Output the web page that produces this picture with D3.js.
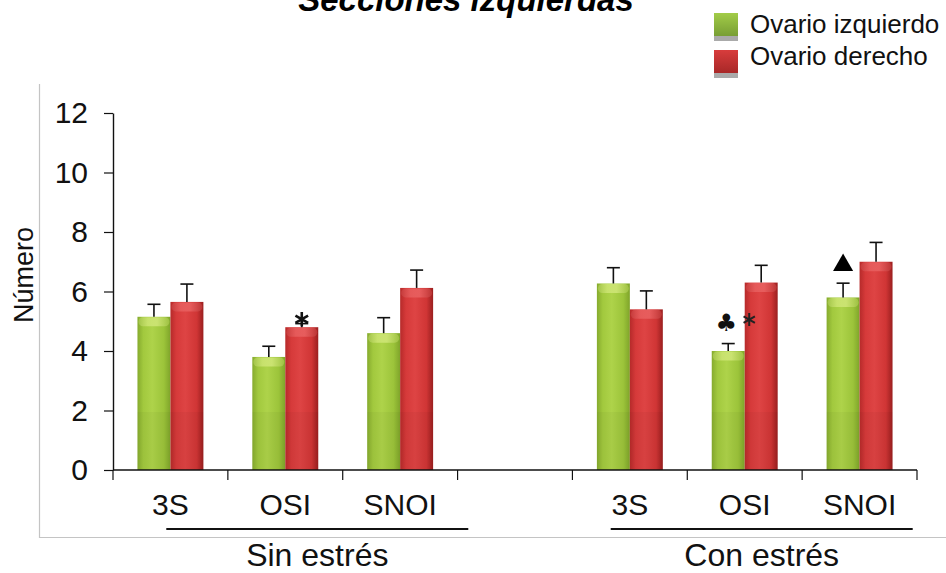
<!DOCTYPE html>
<html>
<head>
<meta charset="utf-8">
<script src="https://cdn.jsdelivr.net/npm/d3@7"></script>
<style>
  html, body { margin: 0; padding: 0; background: #fff; }
  svg { display: block; font-family: "Liberation Sans", Arial, sans-serif; }
</style>
</head>
<body>
<svg id="chart" width="946" height="573"></svg>
<script>
// ---- data ----
const categoryIds = ["sin-3S", "sin-OSI", "sin-SNOI", "gap", "con-3S", "con-OSI", "con-SNOI"];
const categoryLabels = ["3S", "OSI", "SNOI", "", "3S", "OSI", "SNOI"];
const seriesNames = ["Ovario izquierdo", "Ovario derecho"];
const izquierdo = [5.15, 3.8, 4.6, null, 6.27, 4.0, 5.8];
const izquierdoErr = [0.42, 0.36, 0.52, null, 0.53, 0.25, 0.48];
const derecho = [5.65, 4.8, 6.12, null, 5.4, 6.3, 7.0];
const derechoErr = [0.6, 0.12, 0.6, null, 0.62, 0.58, 0.65];
const yTicks = [0, 2, 4, 6, 8, 10, 12];
const groups = [
  { label: "Sin estrés", first: "sin-3S", last: "sin-SNOI" },
  { label: "Con estrés", first: "con-3S", last: "con-SNOI" }
];
// significance marks: category, series index, symbol
const marks = [
  { cat: "sin-OSI", s: 1, sym: "asterisk" },
  { cat: "con-OSI", s: 0, sym: "club" },
  { cat: "con-OSI", s: 0, sym: "asterisk-side" },
  { cat: "con-SNOI", s: 0, sym: "triangle" }
];

const values = [izquierdo, derecho];
const errors = [izquierdoErr, derechoErr];

const svg = d3.select("#chart");
const defs = svg.append("defs");

// cylinder-like shading for the bars
function hGrad(id, stops) {
  const g = defs.append("linearGradient").attr("id", id)
    .attr("x1", "0%").attr("x2", "100%").attr("y1", "0%").attr("y2", "0%");
  stops.forEach(([o, c]) => g.append("stop").attr("offset", o).attr("stop-color", c));
}
hGrad("g-green", [["0%", "#86ab2e"], ["18%", "#a2c93e"], ["45%", "#aed34a"], ["80%", "#9cc43a"], ["100%", "#7fa42a"]]);
hGrad("g-red", [["0%", "#b62a2a"], ["18%", "#d63a3a"], ["45%", "#de4444"], ["80%", "#d03535"], ["100%", "#9a1f1f"]]);
hGrad("g-green-cap", [["0%", "#a8c850"], ["30%", "#cfe676"], ["60%", "#d3e87c"], ["100%", "#a4c648"]]);
hGrad("g-red-cap", [["0%", "#c84040"], ["30%", "#e86060"], ["60%", "#ea6464"], ["100%", "#c03a3a"]]);
const vG = defs.append("linearGradient").attr("id", "leg-green").attr("x1", 0).attr("x2", 0).attr("y1", 0).attr("y2", 1);
vG.append("stop").attr("offset", "0%").attr("stop-color", "#a2cc48");
vG.append("stop").attr("offset", "100%").attr("stop-color", "#789e34");
const vR = defs.append("linearGradient").attr("id", "leg-red").attr("x1", 0).attr("x2", 0).attr("y1", 0).attr("y2", 1);
vR.append("stop").attr("offset", "0%").attr("stop-color", "#d83c3c");
vR.append("stop").attr("offset", "100%").attr("stop-color", "#a82828");

const fills = ["url(#g-green)", "url(#g-red)"];
const capFills = ["url(#g-green-cap)", "url(#g-red-cap)"];

// ---- scales ----
const x0 = d3.scaleBand().domain(categoryIds).range([113, 917]).padding(0);
const x1 = d3.scaleBand().domain([0, 1]).range([0, x0.bandwidth()]).paddingInner(0).paddingOuter(0.742);
const y = d3.scaleLinear().domain([0, 12]).range([470, 113]);

// ---- frame ----
svg.append("line").attr("x1", 39.5).attr("x2", 39.5).attr("y1", 84).attr("y2", 538)
  .attr("stroke", "#c4c4c4").attr("stroke-width", 1.2);
svg.append("line").attr("x1", 39).attr("x2", 946).attr("y1", 537.5).attr("y2", 537.5)
  .attr("stroke", "#c4c4c4").attr("stroke-width", 1.2);

// ---- title ----
svg.append("text").attr("x", 466).attr("y", 11).attr("text-anchor", "middle")
  .attr("font-size", 33).attr("font-weight", "bold").attr("font-style", "italic")
  .text("Secciones izquierdas");

// ---- bars ----
const barData = [];
categoryIds.forEach((c, i) => {
  [0, 1].forEach(s => {
    if (values[s][i] != null) barData.push({ cat: c, s, v: values[s][i], e: errors[s][i] });
  });
});

const bars = svg.append("g");
bars.selectAll("rect.bar").data(barData).join("rect").attr("class", "bar")
  .attr("x", d => x0(d.cat) + x1(d.s))
  .attr("width", x1.bandwidth())
  .attr("y", d => y(d.v))
  .attr("height", d => y(0) - y(d.v))
  .attr("fill", d => fills[d.s]);
// faint lower reflection band
bars.selectAll("rect.low").data(barData).join("rect").attr("class", "low")
  .attr("x", d => x0(d.cat) + x1(d.s))
  .attr("width", x1.bandwidth())
  .attr("y", y(1.95))
  .attr("height", y(0) - y(1.95))
  .attr("fill", "#000").attr("opacity", 0.03);
// rounded light cap at the top of each bar
bars.selectAll("rect.cap").data(barData).join("rect").attr("class", "cap")
  .attr("x", d => x0(d.cat) + x1(d.s) + 1)
  .attr("width", x1.bandwidth() - 2)
  .attr("y", d => y(d.v) + 0.5)
  .attr("height", 9).attr("rx", 4.5)
  .attr("fill", d => capFills[d.s]).attr("opacity", 0.8);

// ---- error bars ----
const eb = svg.append("g").attr("stroke", "#111").attr("stroke-width", 1.6);
barData.forEach(d => {
  const cx = x0(d.cat) + x1(d.s) + x1.bandwidth() / 2;
  eb.append("line").attr("x1", cx).attr("x2", cx).attr("y1", y(d.v)).attr("y2", y(d.v + d.e));
  eb.append("line").attr("x1", cx - 6.5).attr("x2", cx + 6.5).attr("y1", y(d.v + d.e)).attr("y2", y(d.v + d.e));
});

// ---- significance marks ----
marks.forEach(m => {
  const i = categoryIds.indexOf(m.cat);
  const v = values[m.s][i], e = errors[m.s][i];
  const cx = x0(m.cat) + x1(m.s) + x1.bandwidth() / 2;
  const top = y(v + e);
  if (m.sym === "asterisk") {
    svg.append("path").attr("d", d3.symbol(d3.symbolAsterisk, 150)())
      .attr("transform", `translate(${cx},${y(v) - 8})`)
      .attr("stroke", "#111").attr("stroke-width", 2.6).attr("fill", "none");
  } else if (m.sym === "asterisk-side") {
    svg.append("path").attr("d", d3.symbol(d3.symbolAsterisk, 120)())
      .attr("transform", `translate(${cx + 21},${top - 24})`)
      .attr("stroke", "#222").attr("stroke-width", 2).attr("fill", "none");
  } else if (m.sym === "club") {
    svg.append("text").attr("x", cx - 2).attr("y", top - 13)
      .attr("text-anchor", "middle").attr("font-family", "DejaVu Sans")
      .attr("font-size", 24).attr("fill", "#111").text("\u2663");
  } else if (m.sym === "triangle") {
    svg.append("path").attr("d", d3.symbol(d3.symbolTriangle, 175)())
      .attr("transform", `translate(${cx},${top - 18})`)
      .attr("fill", "#000");
  }
});

// ---- y axis ----
const yAxis = svg.append("g").attr("transform", "translate(113,0)")
  .call(d3.axisLeft(y).tickValues(yTicks).tickSize(9).tickPadding(16).tickSizeOuter(0));
yAxis.select(".domain").attr("stroke", "#111").attr("stroke-width", 1.4);
yAxis.selectAll(".tick line").attr("stroke", "#111").attr("stroke-width", 1.2);
yAxis.selectAll(".tick text").attr("font-size", 30).attr("fill", "#111")
  .attr("font-family", "'Liberation Sans', Arial, sans-serif");

svg.append("text").attr("transform", "translate(33,275) rotate(-90)")
  .attr("text-anchor", "middle").attr("font-size", 27).attr("fill", "#111")
  .text("Número");

// ---- x axis (ticks at category boundaries) ----
const xg = svg.append("g");
xg.append("line").attr("x1", x0.range()[0]).attr("x2", x0.range()[1])
  .attr("y1", y(0)).attr("y2", y(0)).attr("stroke", "#111").attr("stroke-width", 1.4);
const bounds = categoryIds.map(c => x0(c)).concat([x0(categoryIds[categoryIds.length - 1]) + x0.bandwidth()]);
xg.selectAll("line.tk").data(bounds).join("line").attr("class", "tk")
  .attr("x1", d => d).attr("x2", d => d).attr("y1", y(0)).attr("y2", y(0) + 10)
  .attr("stroke", "#111").attr("stroke-width", 1.2);
xg.selectAll("text.cat").data(categoryIds).join("text").attr("class", "cat")
  .attr("x", d => x0(d) + x0.bandwidth() / 2).attr("y", 515)
  .attr("text-anchor", "middle").attr("font-size", 30).attr("fill", "#111")
  .text((d, i) => categoryLabels[i]);

// ---- group brackets and labels ----
const groupShift = [32, 17];
groups.forEach((g, gi) => {
  const cx = (x0(g.first) + x0(g.last) + x0.bandwidth()) / 2 + groupShift[gi];
  svg.append("line").attr("x1", cx - 151).attr("x2", cx + 151).attr("y1", 529).attr("y2", 529)
    .attr("stroke", "#111").attr("stroke-width", 2.2);
  svg.append("text").attr("x", cx).attr("y", 566).attr("text-anchor", "middle")
    .attr("font-size", 32).attr("fill", "#111").text(g.label);
});

// ---- legend ----
const legend = svg.append("g");
const legFills = ["url(#leg-green)", "url(#leg-red)"];
seriesNames.forEach((name, i) => {
  const top = 13 + i * 37;
  legend.append("rect").attr("x", 714).attr("y", top).attr("width", 24).attr("height", 23).attr("fill", legFills[i]);
  legend.append("rect").attr("x", 714).attr("y", top + 23).attr("width", 24).attr("height", 5).attr("fill", "#aaaaaa");
  legend.append("text").attr("x", 750).attr("y", 33 + i * 32).attr("font-size", 26).attr("fill", "#111").text(name);
});
</script>
</body>
</html>
